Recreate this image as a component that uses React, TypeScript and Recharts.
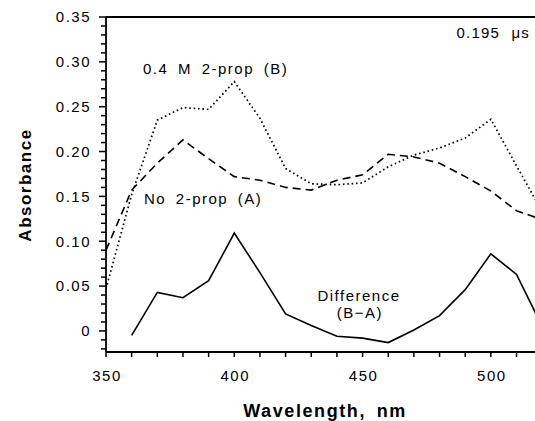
import { LineChart, Line, XAxis, YAxis, ReferenceLine } from "recharts";

// wavelength (nm) and absorbance
const wavelengths = [350, 360, 370, 380, 390, 400, 410, 420, 430, 440, 450, 460, 470, 480, 490, 500, 510, 520];
const withProp = [0.047, 0.152, 0.235, 0.249, 0.247, 0.278, 0.237, 0.181, 0.164, 0.163, 0.165, 0.183, 0.196, 0.204, 0.215, 0.236, 0.184, 0.133];
const noProp = [0.09, 0.157, 0.187, 0.213, 0.192, 0.172, 0.168, 0.16, 0.157, 0.168, 0.174, 0.197, 0.194, 0.187, 0.172, 0.156, 0.134, 0.124];
const difference = [null, -0.005, 0.043, 0.037, 0.056, 0.109, 0.065, 0.019, 0.006, -0.006, -0.008, -0.013, 0.001, 0.017, 0.046, 0.086, 0.063, 0.005];

const xTicks = [350, 360, 370, 380, 390, 400, 410, 420, 430, 440, 450, 460, 470, 480, 490, 500, 510];
const xLabels = [350, 400, 450, 500];
const yTicks = [
  -0.02, -0.01, 0, 0.01, 0.02, 0.03, 0.04, 0.05, 0.06, 0.07, 0.08, 0.09, 0.1, 0.11, 0.12, 0.13, 0.14, 0.15, 0.16, 0.17, 0.18,
  0.19, 0.2, 0.21, 0.22, 0.23, 0.24, 0.25, 0.26, 0.27, 0.28, 0.29, 0.3, 0.31, 0.32, 0.33, 0.34, 0.35,
];
const yLabels = ["0", "0.05", "0.10", "0.15", "0.20", "0.25", "0.30", "0.35"];

const data = wavelengths.map((wl, i) => ({
  wl,
  b: withProp[i],
  a: noProp[i],
  diff: difference[i],
}));

const font = "'Liberation Sans', Arial, Helvetica, sans-serif";

const YTick = (props: any) => {
  const { x, y, payload } = props;
  const v = payload.value;
  const idx = Math.round(v * 20);
  const major = Math.abs(v * 20 - idx) < 1e-6 && idx >= 0;
  return (
    <g>
      <line x1={x - (major ? 7 : 5)} x2={x} y1={y} y2={y} stroke="#000" strokeWidth={1.5} />
      {major && (
        <text x={x - 15} y={y} dy="0.36em" textAnchor="end" fontSize={15} letterSpacing={1.5} fontFamily={font} fill="#000">
          {yLabels[idx]}
        </text>
      )}
    </g>
  );
};

const XTick = (props: any) => {
  const { x, y, payload } = props;
  const v = payload.value;
  return (
    <g>
      <line x1={x} x2={x} y1={y} y2={y + 5} stroke="#000" strokeWidth={1.5} />
      {xLabels.includes(v) && (
        <text x={x + 1} y={y + 29} textAnchor="middle" fontSize={15} letterSpacing={1.5} fontFamily={font} fill="#000">
          {v}
        </text>
      )}
    </g>
  );
};

export default function App() {
  return (
    <div style={{ position: "absolute", left: 0, top: 0, width: 535, height: 421, background: "#fff" }}>
      <LineChart width={535} height={421} data={data} margin={{ top: 17, right: 0, bottom: 0, left: 0 }}>
        <XAxis
          dataKey="wl"
          type="number"
          domain={[350, 517.2]}
          allowDataOverflow
          ticks={xTicks}
          interval={0}
          tick={<XTick />}
          tickLine={false}
          tickSize={0}
          tickMargin={0}
          height={69}
          axisLine={{ stroke: "#000", strokeWidth: 1.8 }}
        />
        <YAxis
          type="number"
          domain={[-0.0235, 0.35]}
          allowDataOverflow
          ticks={yTicks}
          interval={0}
          tick={<YTick />}
          tickLine={false}
          tickSize={0}
          tickMargin={0}
          width={106}
          axisLine={{ stroke: "#000", strokeWidth: 1.8 }}
        />
        <ReferenceLine y={0.35} stroke="#000" strokeWidth={1.8} ifOverflow="visible" />
        <Line type="linear" dataKey="b" stroke="#000" strokeWidth={1.7} strokeDasharray="1.6 2.8" dot={false} isAnimationActive={false} />
        <Line type="linear" dataKey="a" stroke="#000" strokeWidth={1.6} strokeDasharray="8 5" dot={false} isAnimationActive={false} />
        <Line type="linear" dataKey="diff" stroke="#000" strokeWidth={1.6} dot={false} connectNulls={false} isAnimationActive={false} />
      </LineChart>
      <svg width={535} height={421} style={{ position: "absolute", left: 0, top: 0, pointerEvents: "none" }} fontFamily={font} fill="#000">
        <text x={530} y={38} textAnchor="end" fontSize={15} letterSpacing={1.2} style={{ wordSpacing: 6 }}>
          0.195 μs
        </text>
        <text x={143} y={74} fontSize={15} letterSpacing={1.5} style={{ wordSpacing: 4 }}>
          0.4 M 2‑prop (B)
        </text>
        <text x={144} y={204} fontSize={15} letterSpacing={1.5} style={{ wordSpacing: 4 }}>
          No 2‑prop (A)
        </text>
        <text x={359} y={301} textAnchor="middle" fontSize={15} letterSpacing={1.5}>
          Difference
        </text>
        <text x={360} y={318} textAnchor="middle" fontSize={15} letterSpacing={1.5}>
          (B−A)
        </text>
        <text x={325} y={417} textAnchor="middle" fontSize={18} fontWeight="bold" letterSpacing={1.6} style={{ wordSpacing: 4 }}>
          Wavelength, nm
        </text>
        <text
          x={0}
          y={0}
          transform="translate(31 185) rotate(-90)"
          textAnchor="middle"
          fontSize={17}
          fontWeight="bold"
          letterSpacing={1.5}
        >
          Absorbance
        </text>
      </svg>
    </div>
  );
}
